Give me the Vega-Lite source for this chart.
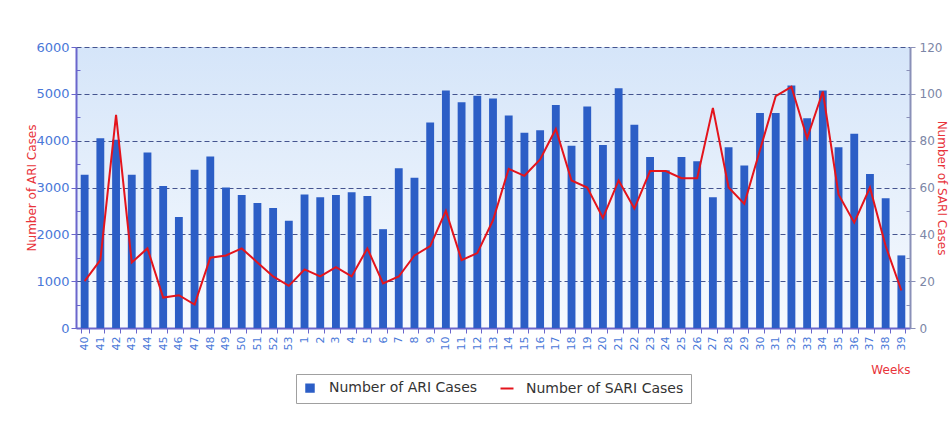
{
  "$schema": "https://vega.github.io/schema/vega-lite/v6.json",
  "autosize": {"type": "none"},
  "padding": {"left": 76, "top": 47, "right": 41, "bottom": 111},
  "width": 834,
  "height": 281,
  "background": "#ffffff",
  "config": {
    "font": "DejaVu Sans",
    "view": {
      "stroke": null,
      "fill": {"gradient": "linear", "x1": 0, "y1": 0, "x2": 0, "y2": 1, "stops": [{"offset": 0, "color": "#d5e5f9"}, {"offset": 1, "color": "#f7fafe"}]}
    },
    "axis": {"titleFontWeight": "normal", "titleFont": "DejaVu Sans", "labelFont": "DejaVu Sans"}
  },
  "data": {
    "values": [
      {"week": "40", "ari": 3270, "sari": 20},
      {"week": "41", "ari": 4050, "sari": 29},
      {"week": "42", "ari": 4020, "sari": 91},
      {"week": "43", "ari": 3270, "sari": 28},
      {"week": "44", "ari": 3750, "sari": 34},
      {"week": "45", "ari": 3030, "sari": 13},
      {"week": "46", "ari": 2370, "sari": 14},
      {"week": "47", "ari": 3380, "sari": 10},
      {"week": "48", "ari": 3660, "sari": 30},
      {"week": "49", "ari": 3000, "sari": 31},
      {"week": "50", "ari": 2840, "sari": 34},
      {"week": "51", "ari": 2670, "sari": 28},
      {"week": "52", "ari": 2560, "sari": 22},
      {"week": "53", "ari": 2290, "sari": 18},
      {"week": "1", "ari": 2850, "sari": 25},
      {"week": "2", "ari": 2790, "sari": 22},
      {"week": "3", "ari": 2840, "sari": 26},
      {"week": "4", "ari": 2900, "sari": 22},
      {"week": "5", "ari": 2820, "sari": 34},
      {"week": "6", "ari": 2110, "sari": 19},
      {"week": "7", "ari": 3410, "sari": 22},
      {"week": "8", "ari": 3210, "sari": 31},
      {"week": "9", "ari": 4390, "sari": 35},
      {"week": "10", "ari": 5070, "sari": 50},
      {"week": "11", "ari": 4820, "sari": 29},
      {"week": "12", "ari": 4960, "sari": 32},
      {"week": "13", "ari": 4900, "sari": 46},
      {"week": "14", "ari": 4540, "sari": 68},
      {"week": "15", "ari": 4170, "sari": 65},
      {"week": "16", "ari": 4220, "sari": 72},
      {"week": "17", "ari": 4760, "sari": 85},
      {"week": "18", "ari": 3890, "sari": 63},
      {"week": "19", "ari": 4730, "sari": 60},
      {"week": "20", "ari": 3910, "sari": 47},
      {"week": "21", "ari": 5120, "sari": 63},
      {"week": "22", "ari": 4340, "sari": 51},
      {"week": "23", "ari": 3650, "sari": 67},
      {"week": "24", "ari": 3370, "sari": 67},
      {"week": "25", "ari": 3650, "sari": 64},
      {"week": "26", "ari": 3560, "sari": 64},
      {"week": "27", "ari": 2790, "sari": 94},
      {"week": "28", "ari": 3860, "sari": 60},
      {"week": "29", "ari": 3470, "sari": 53},
      {"week": "30", "ari": 4590, "sari": 76},
      {"week": "31", "ari": 4590, "sari": 99},
      {"week": "32", "ari": 5180, "sari": 103},
      {"week": "33", "ari": 4480, "sari": 81},
      {"week": "34", "ari": 5070, "sari": 101},
      {"week": "35", "ari": 3860, "sari": 57},
      {"week": "36", "ari": 4150, "sari": 45},
      {"week": "37", "ari": 3290, "sari": 60},
      {"week": "38", "ari": 2770, "sari": 35},
      {"week": "39", "ari": 1550, "sari": 16}
    ]
  },
  "encoding": {
    "x": {
      "field": "week",
      "type": "nominal",
      "sort": null,
      "scale": {"paddingInner": 0.5, "paddingOuter": 0.3},
      "axis": {
        "title": "Weeks",
        "titleAnchor": "end",
        "titleColor": "#e8333a",
        "titleFontSize": 12,
        "titlePadding": 15,
        "labelAngle": 270,
        "labelColor": "#4a78d8",
        "labelFontSize": 11,
        "labelPadding": 3,
        "tickBand": "extent",
        "tickSize": 5,
        "tickColor": "#6a66cc",
        "domainColor": "#6a66cc",
        "domainWidth": 2,
        "labelOverlap": false
      }
    },
    "color": {
      "scale": {"domain": ["Number of ARI Cases", "Number of SARI Cases"], "range": ["#2c5ec6", "#e4141c"]},
      "legend": {
        "title": null,
        "orient": "none",
        "legendX": 220,
        "legendY": 327,
        "direction": "horizontal",
        "strokeColor": "#a0a0a0",
        "padding": 7,
        "labelFontSize": 14,
        "labelColor": "#333333",
        "labelFont": "DejaVu Sans",
        "labelOffset": 12,
        "columnPadding": 18,
        "symbolSize": 64,
        "encode": {
          "symbols": {
            "update": {
              "shape": {"signal": "datum.value === 'Number of SARI Cases' ? 'stroke' : 'square'"},
              "size": {"signal": "datum.value === 'Number of SARI Cases' ? 169 : 56"},
              "fill": {"signal": "datum.value === 'Number of SARI Cases' ? 'transparent' : '#3a5fae'"},
              "stroke": {"signal": "datum.value === 'Number of SARI Cases' ? '#e4141c' : 'transparent'"},
              "strokeWidth": {"value": 2}
            }
          }
        }
      }
    }
  },
  "layer": [
    {
      "mark": {"type": "bar"},
      "encoding": {
        "y": {
          "field": "ari",
          "type": "quantitative",
          "scale": {"domain": [0, 6000]},
          "axis": {
            "title": "Number of ARI Cases",
            "titleColor": "#e8333a",
            "titleFontSize": 12,
            "titlePadding": -3,
            "values": [0, 500, 1000, 1500, 2000, 2500, 3000, 3500, 4000, 4500, 5000, 5500, 6000],
            "format": "d",
            "labelExpr": "datum.value % 1000 === 0 ? datum.label : ''",
            "labelColor": "#4a78d8",
            "labelFontSize": 13,
            "labelOverlap": false,
            "labelPadding": 2,
            "tickSize": {"condition": {"test": "datum.value % 1000 !== 0", "value": -4}, "value": 5},
            "tickColor": "#6a66cc",
            "grid": true,
            "gridOpacity": {"condition": {"test": "datum.value % 1000 !== 0", "value": 0}, "value": 1},
            "gridDash": [5, 3],
            "gridColor": "#44548f",
            "domainColor": "#6a66cc",
            "domainWidth": 2
          }
        },
        "color": {"datum": "Number of ARI Cases"}
      }
    },
    {
      "mark": {"type": "line", "strokeWidth": 2},
      "encoding": {
        "y": {
          "field": "sari",
          "type": "quantitative",
          "scale": {"domain": [0, 120]},
          "axis": {
            "orient": "right",
            "title": "Number of SARI Cases",
            "titleColor": "#e8333a",
            "titleFontSize": 12,
            "titlePadding": -7,
            "values": [0, 10, 20, 30, 40, 50, 60, 70, 80, 90, 100, 110, 120],
            "labelExpr": "datum.value % 20 === 0 ? datum.label : ''",
            "labelColor": "#7c86a6",
            "labelFontSize": 12,
            "labelOverlap": false,
            "labelPadding": 4,
            "tickSize": {"condition": {"test": "datum.value % 20 !== 0", "value": -4}, "value": 5},
            "tickColor": "#8a90b8",
            "grid": false,
            "domainColor": "#8a90b8",
            "domainWidth": 2
          }
        },
        "color": {"datum": "Number of SARI Cases"}
      }
    }
  ],
  "resolve": {"scale": {"y": "independent"}}
}
